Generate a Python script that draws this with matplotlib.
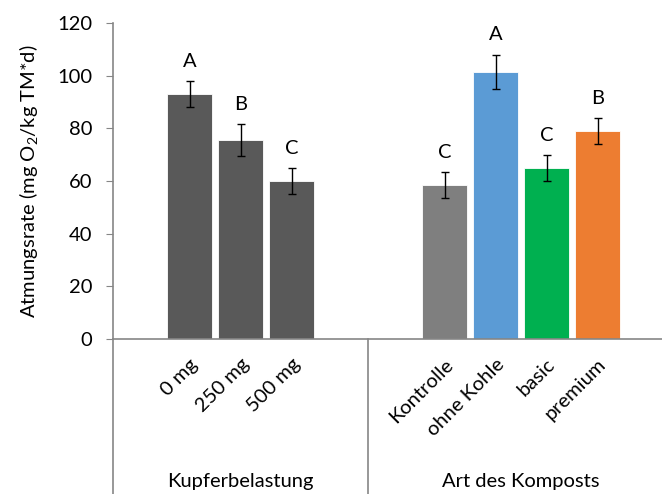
import matplotlib.pyplot as plt
import matplotlib.transforms as mtransforms
from matplotlib.lines import Line2D

plt.rcParams['font.family'] = ['Lato', 'DejaVu Sans']
plt.rcParams['mathtext.fontset'] = 'custom'
plt.rcParams['mathtext.rm'] = 'Lato'
plt.rcParams['mathtext.it'] = 'Lato:italic'

# data
categories = ['0 mg', '250 mg', '500 mg',
              'Kontrolle', 'ohne Kohle', 'basic', 'premium']
values = [93, 75.5, 60, 58.5, 101.5, 65, 79]
errors = [5, 6, 5, 4.8, 6.5, 5, 4.9]
letters = ['A', 'B', 'C', 'C', 'A', 'C', 'B']
colors = ['#595959', '#595959', '#595959',
          '#7f7f7f', '#5b9bd5', '#00b050', '#ed7d31']
groups = ['Kupferbelastung', 'Art des Komposts']
positions = [1, 2, 3, 6, 7, 8, 9]
group_edges = [-0.5, 4.5, 10.5]

AXIS_GRAY = '#868686'
FS = 14.5

fig = plt.figure(figsize=(6.62, 4.94), dpi=100)
ax = fig.add_axes([113 / 662, 155 / 494, 561 / 662, 316 / 494])

ax.bar(positions, values, width=0.9, color=colors,
       edgecolor='white', linewidth=0.6, zorder=2)
ax.errorbar(positions, values, yerr=errors, fmt='none', ecolor='black',
            elinewidth=1, capsize=3, capthick=1, zorder=3)

for x, v, e, l in zip(positions, values, errors, letters):
    ax.annotate(l, xy=(x, v + e), xytext=(0, 8), textcoords='offset points',
                ha='center', va='bottom', fontsize=FS)

ax.set_xlim(-0.5, 10.5)
ax.set_ylim(0, 120)
ax.set_yticks(range(0, 121, 20))
ax.tick_params(axis='y', labelsize=FS, length=5, color=AXIS_GRAY, pad=10)
ax.set_ylabel(r'Atmungsrate (mg O$_2$/kg TM*d)', fontsize=FS, labelpad=12)

ax.set_xticks(positions)
ax.set_xticklabels(categories, rotation=45, ha='right',
                   rotation_mode='anchor', fontsize=FS)
ax.tick_params(axis='x', length=0, pad=12)

for side in ['top', 'right']:
    ax.spines[side].set_visible(False)
for side in ['left', 'bottom']:
    ax.spines[side].set_color(AXIS_GRAY)
    ax.spines[side].set_linewidth(1.2)

# group separators below the category axis
trans = mtransforms.blended_transform_factory(ax.transData, ax.transAxes)
for xe in group_edges:
    ax.add_line(Line2D([xe, xe], [0, -0.5], transform=trans, color=AXIS_GRAY,
                       linewidth=1.2, clip_on=False))

for i, g in enumerate(groups):
    xc = (group_edges[i] + group_edges[i + 1]) / 2
    ax.text(xc, -0.45, g, transform=trans, ha='center', va='center',
            fontsize=FS)

plt.savefig('out.png', dpi=100)
